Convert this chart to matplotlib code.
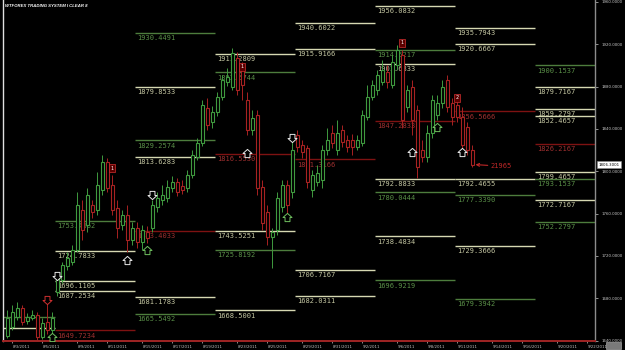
import matplotlib.pyplot as plt
from matplotlib.path import Path
from matplotlib.patches import Rectangle
import matplotlib.transforms as mtransforms

# ================================
# PRICE DATA (8H candles, 2 Aug - 12 Sep 2011)
# ================================
opens = [1644.3, 1652.8, 1662.3, 1670.8, 1658.5, 1661.3, 1664.2, 1643.4, 1657.5, 1650.0,
         1685.9, 1697.2, 1710.5, 1714.3, 1725.6, 1763.4, 1749.2, 1768.1, 1763.4, 1782.3,
         1808.8, 1787.0, 1765.3, 1749.2, 1758.7, 1735.0,
         1746.4, 1733.2, 1742.6, 1746.4, 1766.2, 1772.9, 1774.8, 1784.2, 1789.9, 1786.1,
         1784.2, 1796.5, 1813.5, 1826.7, 1859.8, 1846.6,
         1856.0, 1870.2, 1884.4, 1879.7, 1907.1, 1895.7, 1867.4, 1839.0, 1853.2, 1785.2,
         1761.5, 1737.9, 1744.5, 1766.2, 1787.0, 1780.4,
         1834.3, 1824.9, 1822.0, 1782.3, 1789.9, 1791.8, 1820.1, 1836.2, 1820.1, 1839.0,
         1829.6, 1829.6, 1823.0, 1826.7, 1851.3, 1870.2,
         1876.8, 1884.4, 1893.8, 1881.6, 1900.5, 1909.9, 1860.8, 1879.7, 1857.9, 1820.1,
         1813.5, 1836.2, 1853.2, 1864.5, 1886.3, 1864.5,
         1862.7, 1851.3, 1841.9, 1820.1]
highs = [1668.9, 1673.6, 1676.4, 1673.6, 1666.0, 1668.9, 1667.0, 1661.3, 1675.5, 1667.0,
         1702.0, 1714.3, 1723.7, 1730.3, 1780.4, 1772.9, 1784.2, 1772.9, 1799.3, 1815.4,
         1812.6, 1796.5, 1772.9, 1763.4, 1768.1, 1752.1,
         1752.1, 1749.2, 1748.3, 1772.9, 1780.4, 1787.0, 1791.8, 1795.5, 1793.6, 1791.8,
         1801.2, 1820.1, 1831.5, 1867.4, 1869.3, 1861.7,
         1874.9, 1891.0, 1897.6, 1916.5, 1912.7, 1903.3, 1874.9, 1857.9, 1857.9, 1791.8,
         1768.1, 1746.4, 1780.4, 1791.8, 1791.8, 1827.7,
         1839.0, 1829.6, 1824.9, 1801.2, 1805.9, 1824.9, 1840.9, 1843.7, 1848.5, 1843.7,
         1834.3, 1835.3, 1834.3, 1857.9, 1881.6, 1886.3,
         1895.7, 1905.2, 1900.5, 1909.9, 1919.4, 1914.6, 1881.6, 1886.3, 1862.7, 1829.6,
         1843.7, 1872.1, 1872.1, 1886.3, 1891.0, 1869.3,
         1867.4, 1860.8, 1846.6, 1824.9]
lows = [1642.4, 1650.0, 1659.4, 1654.7, 1655.6, 1659.4, 1640.5, 1641.5, 1646.2, 1644.3,
        1682.1, 1694.4, 1706.7, 1711.4, 1723.7, 1735.0, 1742.6, 1755.8, 1758.7, 1777.6,
        1780.4, 1758.7, 1737.0, 1744.5, 1723.7, 1730.3,
        1727.5, 1725.6, 1732.2, 1742.6, 1761.5, 1768.1, 1771.0, 1780.4, 1776.6, 1778.5,
        1780.4, 1793.6, 1810.7, 1823.9, 1839.0, 1840.9,
        1852.3, 1867.4, 1880.6, 1876.8, 1872.1, 1867.4, 1834.3, 1834.3, 1777.6, 1744.5,
        1730.3, 1708.6, 1739.8, 1761.5, 1758.7, 1774.8,
        1818.2, 1812.6, 1784.2, 1775.7, 1786.1, 1784.2, 1815.4, 1822.0, 1815.4, 1823.0,
        1818.2, 1815.4, 1820.1, 1823.9, 1848.5, 1867.4,
        1872.1, 1881.6, 1878.7, 1878.7, 1895.7, 1840.9, 1856.0, 1834.3, 1793.7, 1808.8,
        1808.8, 1831.5, 1848.5, 1859.8, 1856.0, 1843.7,
        1846.6, 1822.0, 1815.4, 1804.5]
closes = [1661.3, 1667.0, 1670.8, 1657.5, 1662.3, 1664.2, 1643.4, 1656.6, 1650.0, 1661.3,
          1699.1, 1711.4, 1718.0, 1725.6, 1768.1, 1744.5, 1777.6, 1761.5, 1787.0, 1808.8,
          1784.2, 1763.4, 1746.4, 1758.7, 1735.0, 1746.4,
          1733.2, 1744.5, 1737.0, 1768.1, 1774.8, 1777.6, 1785.2, 1789.9, 1780.4, 1782.3,
          1796.5, 1815.4, 1826.7, 1862.7, 1843.7, 1856.0,
          1870.2, 1886.3, 1889.1, 1911.8, 1876.8, 1881.6, 1839.0, 1850.4, 1784.2, 1751.1,
          1737.9, 1742.6, 1774.8, 1787.0, 1768.1, 1820.1,
          1823.0, 1818.2, 1789.9, 1796.5, 1798.4, 1820.1, 1829.6, 1826.7, 1836.2, 1827.7,
          1823.0, 1823.0, 1829.6, 1853.2, 1870.2, 1881.6,
          1891.0, 1895.7, 1884.4, 1903.3, 1914.6, 1848.5, 1876.8, 1848.5, 1804.0, 1813.5,
          1836.2, 1867.4, 1864.5, 1879.7, 1860.8, 1851.3,
          1851.3, 1824.9, 1820.1, 1806.3]

# week boundaries in candle index units
week_edges = [-0.9, 9.5, 25.5, 41.5, 57.5, 73.5, 89.5, 105.5, 117.5]

# ================================
# WEEKLY PIVOT LEVELS
# ================================
level_week = [0, 0,
              1, 1, 1, 1, 1,
              2, 2, 2, 2, 2, 2, 2,
              3, 3, 3, 3, 3, 3,
              4, 4, 4, 4, 4,
              5, 5, 5, 5, 5, 5, 5, 5,
              6, 6, 6, 6, 6, 6, 6,
              7, 7, 7, 7, 7, 7, 7, 7, 7]
level_price = [1662.6, 1651.6,
               1753.4662, 1724.7833, 1696.1105, 1687.2534, 1649.7234,
               1930.4491, 1879.8533, 1829.2574, 1813.6283, 1743.4033, 1681.1783, 1665.5492,
               1911.2809, 1893.5744, 1816.5530, 1743.5251, 1725.8192, 1668.5001,
               1940.6022, 1915.9166, 1811.3166, 1706.7167, 1682.0311,
               1956.0832, 1914.5217, 1901.6833, 1847.2833, 1792.8833, 1780.0444, 1738.4834, 1696.9219,
               1935.7943, 1920.6667, 1856.5666, 1792.4655, 1777.3390, 1729.3666, 1679.3942,
               1900.1537, 1879.7167, 1859.2797, 1852.4657, 1826.2167, 1799.4657, 1793.1537,
               1772.7167, 1752.2797]
# r = range level, m = mid level, p = weekly pivot
level_type = ["m", "r",
              "m", "r", "r", "r", "p",
              "m", "r", "m", "r", "p", "r", "m",
              "r", "m", "p", "r", "m", "r",
              "r", "r", "p", "r", "r",
              "r", "m", "r", "p", "r", "m", "r", "m",
              "r", "r", "p", "r", "m", "r", "m",
              "m", "r", "r", "r", "p", "r", "m", "r", "m"]
level_labelled = [False, False] + [True] * 47

# ================================
# SIGNALS
# ================================
white_up_k = [23.9, 47.9, 80.9, 90.9]
white_up_p = [1716.1, 1817.3, 1818.2, 1818.2]
green_up_k = [8.9, 27.9, 55.9, 85.9]
green_up_p = [1643.4, 1725.6, 1756.8, 1841.9]
white_down_k = [9.9, 28.9, 56.9]
white_down_p = [1701.0, 1777.6, 1831.5]
red_down_k = [7.9]
red_down_p = [1678.3]
count_k = [20.9, 46.9, 78.9, 89.9]
count_p = [1803.1, 1898.6, 1921.3, 1869.3]
count_txt = ["1", "1", "1", "2"]

# ================================
# AXIS LABELS
# ================================
date_k = [1, 7, 14, 20, 27, 33, 39, 46, 52, 59, 65, 71, 78, 84, 90, 97, 103, 110, 116]
date_labels = ["8/3/2011", "8/5/2011", "8/9/2011", "8/11/2011", "8/15/2011", "8/17/2011",
               "8/19/2011", "8/23/2011", "8/25/2011", "8/29/2011", "8/31/2011", "9/2/2011",
               "9/6/2011", "9/8/2011", "9/11/2011", "9/14/2011", "9/16/2011", "9/20/2011",
               "9/22/2011"]
price_ticks = [1640, 1680, 1720, 1760, 1800, 1840, 1880, 1920, 1960]
last_price = 1806.3001
last_count = "21965"

# ================================
# VISUALIZATION
# ================================
UP = "#3f9a3f"
DN = "#a82222"
line_col = {"r": "#d6d8b2", "m": "#4d7d3d", "p": "#7e1212"}
text_col = {"r": "#c4c6a2", "m": "#5a9048", "p": "#a03030"}

fig = plt.figure(figsize=(6.25, 3.5), dpi=100, facecolor="black")
ax = fig.add_axes([3 / 625, 9 / 350, 592 / 625, 341 / 350], facecolor="black")
ax.set_xlim(-0.9, 117.5)
ax.set_ylim(1639.59, 1961.89)

# pivot lines
for wk, price, kind, lab in zip(level_week, level_price, level_type, level_labelled):
    x0, x1 = week_edges[wk], week_edges[wk + 1]
    ax.hlines(price, x0, x1, color=line_col[kind], lw=1.0, zorder=1)
    if lab:
        ax.annotate(f"{price:.4f}", (x0, price), xytext=(1.2, -1.6),
                    textcoords="offset points", ha="left", va="top",
                    fontsize=5, family="DejaVu Sans Mono", color=text_col[kind], zorder=2)

# candles
for i in range(len(opens)):
    o, h, l, c = opens[i], highs[i], lows[i], closes[i]
    col = UP if c >= o else DN
    ax.vlines(i, l, h, color=col, lw=0.7, zorder=3)
    ax.add_patch(Rectangle((i - 0.35, min(o, c)), 0.7, max(abs(c - o), 0.6),
                           facecolor="black", edgecolor=col, lw=0.8, zorder=4))

# arrow markers
up_arrow = Path([(-0.3, -0.5), (0.3, -0.5), (0.3, 0.0), (0.55, 0.0), (0.0, 0.5),
                 (-0.55, 0.0), (-0.3, 0.0), (-0.3, -0.5)],
                [Path.MOVETO] + [Path.LINETO] * 6 + [Path.CLOSEPOLY])
down_arrow = Path([(x, -y) for x, y in up_arrow.vertices], up_arrow.codes)
ax.plot(white_up_k, white_up_p, ls="none", marker=up_arrow, ms=6.5, mfc="black",
        mec="#e8e8e8", mew=0.7, zorder=6)
ax.plot(green_up_k, green_up_p, ls="none", marker=up_arrow, ms=6.5, mfc="black",
        mec="#6fbf5f", mew=0.7, zorder=6)
ax.plot(white_down_k, white_down_p, ls="none", marker=down_arrow, ms=6.5, mfc="black",
        mec="#e8e8e8", mew=0.7, zorder=6)
ax.plot(red_down_k, red_down_p, ls="none", marker=down_arrow, ms=6.5, mfc="black",
        mec="#d03030", mew=0.7, zorder=6)
for k, p, t in zip(count_k, count_p, count_txt):
    ax.text(k, p, t, fontsize=3.5, color="white", ha="center", va="center", zorder=7,
            bbox=dict(boxstyle="square,pad=0.25", fc="#5a0000", ec="#d03030", lw=0.5))

# last bar counter
ax.annotate(last_count, xy=(len(opens) - 0.4, closes[-1]),
            xytext=(len(opens) + 2.6, closes[-1] - 1.5),
            ha="left", va="center", fontsize=5, family="DejaVu Sans Mono", color="#c02828",
            arrowprops=dict(arrowstyle="->", color="#c02828", lw=0.8,
                            shrinkA=0, shrinkB=0), zorder=7)

# axes styling
for s in ["top"]:
    ax.spines[s].set_visible(False)
ax.spines["left"].set_color("#e0e0e0")
ax.spines["left"].set_linewidth(1.0)
ax.spines["right"].set_color("#8c8c8c")
ax.spines["right"].set_linewidth(1.0)
ax.spines["bottom"].set_color("#a02424")
ax.spines["bottom"].set_linewidth(1.4)
ax.spines["bottom"].set_linestyle((0, (1, 1)))

ax.yaxis.tick_right()
ax.set_yticks(price_ticks)
ax.set_yticklabels([f"{v:.4f}" for v in price_ticks])
ax.tick_params(axis="y", colors="#c8c8c8", labelsize=2.8, length=2, width=0.5, pad=2.5)

ax.set_xticks(date_k)
ax.set_xticklabels(date_labels)
ax.tick_params(axis="x", colors="#c0c0c0", labelsize=2.8, length=1.5, width=0.5, pad=1.2)
for lbl in ax.get_xticklabels():
    lbl.set_ha("left")

# current price box
trans = mtransforms.blended_transform_factory(ax.transAxes, ax.transData)
ax.text(1.006, last_price, f"{last_price:.4f}", transform=trans, fontsize=2.8,
        color="black", ha="left", va="center",
        bbox=dict(boxstyle="square,pad=0.3", fc="white", ec="#909090", lw=0.4))

# title
fig.text(5 / 625, 1 - 6 / 350, "WTFOREX TRADING SYSTEM I CLEAR 8", color="white",
         fontsize=3.1, fontweight="bold", style="italic", family="Liberation Sans",
         ha="left", va="center")

# small toolbar box bottom right
fig.patches.append(Rectangle((606 / 625, 1 / 350), 15 / 625, 7 / 350, transform=fig.transFigure,
                             facecolor="#7a7a7a", edgecolor="#bbbbbb", lw=0.4))

plt.savefig("out.png", dpi=100, facecolor="black")
